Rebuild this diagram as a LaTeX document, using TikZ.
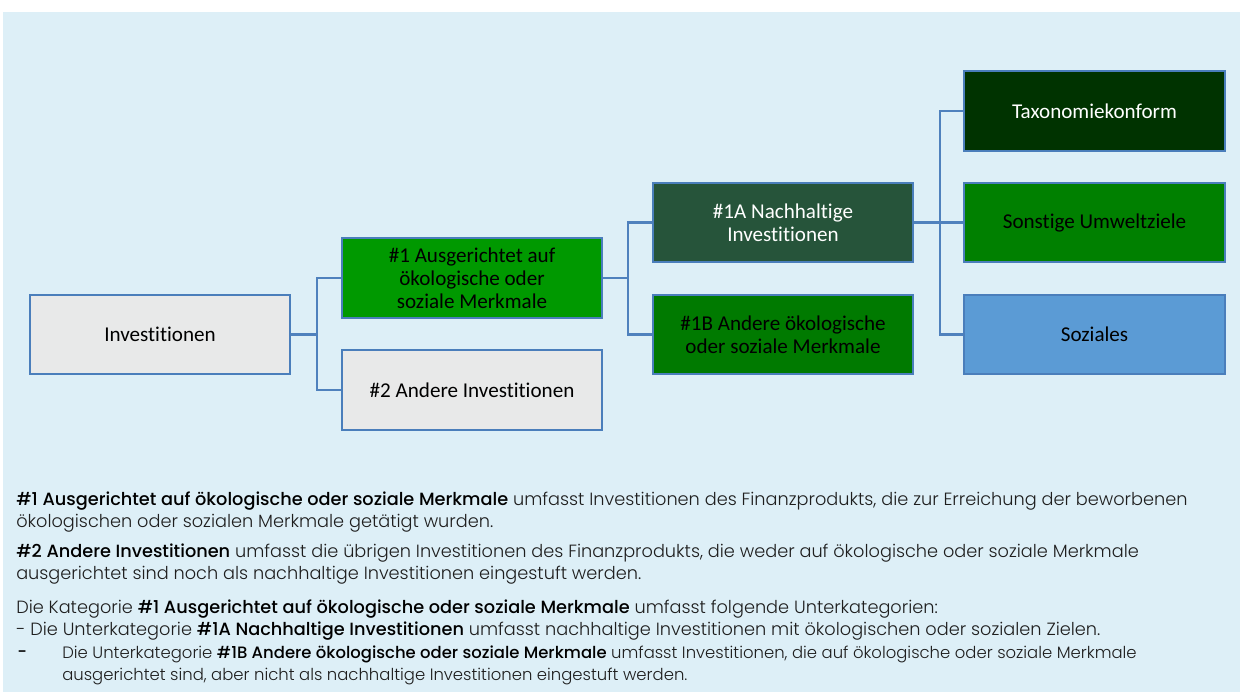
\documentclass[tikz,border=0pt]{standalone}
\usepackage{fontspec}
\setmainfont{Poppins}[UprightFont={Poppins Light}, BoldFont={Poppins Medium}]
\newfontfamily\boxfont{Carlito}[Ligatures=NoCommon]
\usetikzlibrary{calc}
\definecolor{bgblue}{RGB}{221,239,247}
\definecolor{bordblue}{RGB}{74,126,187}
\definecolor{connblue}{RGB}{79,129,189}
\definecolor{greyfill}{RGB}{232,233,233}
\definecolor{gOne}{RGB}{0,153,0}
\definecolor{gOneA}{RGB}{38,84,58}
\definecolor{gOneB}{RGB}{0,122,0}
\definecolor{gTax}{RGB}{0,51,0}
\definecolor{gSon}{RGB}{0,128,0}
\definecolor{bSoz}{RGB}{91,155,213}
\definecolor{txtgrey}{RGB}{30,30,30}
\tikzset{
  box/.style={draw=bordblue, line width=1.4pt, minimum width=6.5cm, minimum height=1.98cm,
    inner sep=2pt, align=center, font=\boxfont\fontsize{15}{16.5}\selectfont, text=black},
  conn/.style={draw=connblue, line width=1.6pt},
  para/.style={anchor=west, inner sep=0pt, font=\fontsize{12.6}{14}\selectfont, text=txtgrey},
  parasmall/.style={para, font=\fontsize{11.7}{13}\selectfont}
}
\begin{document}
\begin{tikzpicture}[x=0.025cm, y=-0.025cm]
\useasboundingbox (0,0) rectangle (1240,698);
\fill[white] (0,0) rectangle (1240,698);
\fill[bgblue] (3,12) rectangle (1240,692);

\node[box, fill=greyfill] (inv) at (160,334.5) {Investitionen};
\node[box, fill=gOne] (n1) at (472,278) {\#1 Ausgerichtet auf\\ökologische oder\\soziale Merkmale};
\node[box, fill=greyfill] (n2) at (472,390) {\#2 Andere Investitionen};
\node[box, fill=gOneA, text=white] (n1a) at (783,222.5) {\#1A Nachhaltige\\Investitionen};
\node[box, fill=gOneB] (n1b) at (783,334.5) {\#1B Andere ökologische\\oder soziale Merkmale};
\node[box, fill=gTax, text=white] (tax) at (1094.5,111) {Taxonomiekonform};
\node[box, fill=gSon] (son) at (1094.5,222.5) {Sonstige Umweltziele};
\node[box, fill=bSoz] (soz) at (1094.5,334.5) {Soziales};

\draw[conn] (inv.east) -- +(26,0) |- (n1.west);
\draw[conn] (inv.east) -- +(26,0) |- (n2.west);
\draw[conn] (n1.east) -- +(25,0) |- (n1a.west);
\draw[conn] (n1.east) -- +(25,0) |- (n1b.west);
\draw[conn] (n1a.east) -- +(26,0) |- (tax.west);
\draw[conn] (n1a.east) -- +(26,0) |- (son.west);
\draw[conn] (n1a.east) -- +(26,0) |- (soz.west);

\node[para] (l1) at (16,501) {\textcolor{black}{\textbf{\#1 Ausgerichtet auf ökologische oder soziale Merkmale}} umfasst Investitionen des Finanzprodukts, die zur Erreichung der beworbenen};
\node[para] (l2) at (16,523) {ökologischen oder sozialen Merkmale getätigt wurden.};
\node[para] (l3) at (16,553) {\textcolor{black}{\textbf{\#2 Andere Investitionen}} umfasst die übrigen Investitionen des Finanzprodukts, die weder auf ökologische oder soziale Merkmale};
\node[para] (l4) at (16,575) {ausgerichtet sind noch als nachhaltige Investitionen eingestuft werden.};
\node[para] (l5) at (16,609) {Die Kategorie \textcolor{black}{\textbf{\#1 Ausgerichtet auf ökologische oder soziale Merkmale}} umfasst folgende Unterkategorien:};
\node[para] (l6) at (16,631) {- Die Unterkategorie \textcolor{black}{\textbf{\#1A Nachhaltige Investitionen}} umfasst nachhaltige Investitionen mit ökologischen oder sozialen Zielen.};
\node[parasmall] (l7d) at (17,654) {\textcolor{black}{\textbf{-}}};
\node[parasmall] (l7) at (62,654) {Die Unterkategorie \textcolor{black}{\textbf{\#1B Andere ökologische oder soziale Merkmale}} umfasst Investitionen, die auf ökologische oder soziale Merkmale};
\node[parasmall] (l8) at (62,676) {ausgerichtet sind, aber nicht als nachhaltige Investitionen eingestuft werden.};
\end{tikzpicture}
\end{document}
